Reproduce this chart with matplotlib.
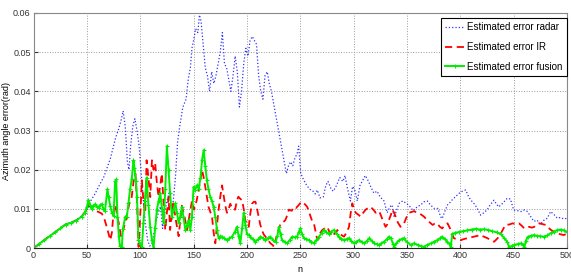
import matplotlib
matplotlib.use('Agg')
import matplotlib.pyplot as plt
from matplotlib import font_manager

# sample index n and azimuth error (rad), per series
n_radar = [0, 5, 10, 15, 20, 25, 30, 35, 40, 45, 50, 54, 58, 62, 66, 69, 72, 75, 77, 80,
           82, 84, 86, 88, 89.5, 91, 93, 95, 97, 99, 101, 103, 105, 107, 109, 111, 113, 115, 117, 119,
           121, 123, 125, 127, 129, 131, 133, 135, 137, 140, 143, 145, 147, 148.5, 150, 152, 154, 155.5, 157, 159,
           161, 163, 165, 167, 169, 171, 173, 175, 177, 179, 181, 183, 185, 187, 189, 191, 193, 195, 197, 199,
           201, 203, 205, 207, 209, 211, 213, 215, 217, 219, 221, 223, 225, 227, 229, 231, 233, 235, 237, 239,
           241, 243, 245, 247, 248.5, 250.5, 253, 256, 259, 262, 264, 266, 268.5, 271.5, 274, 276, 279, 281, 284, 287,
           290, 292, 294, 297, 299, 301, 303.5, 306, 308, 311, 314, 316, 319, 322, 325, 328.5, 331.5, 334, 336, 338,
           341, 343, 346, 350, 353, 356, 359.5, 363, 366, 369, 372, 376, 379, 381.5, 383, 385, 388, 391, 393, 396,
           399, 402, 405, 408, 410, 414, 417, 419, 422, 425, 428, 431.5, 434, 436, 440, 444, 447, 450, 454, 457,
           460, 463, 466, 469, 472, 475, 478, 481.5, 484.6, 488, 491, 494, 497, 500]
err_radar = [0, 0.0009, 0.002, 0.003, 0.004, 0.005, 0.006, 0.0066, 0.0072, 0.0082, 0.0095, 0.0122, 0.014, 0.0162, 0.0182, 0.0205, 0.0228, 0.026, 0.0282, 0.0305,
             0.0325, 0.035, 0.031, 0.022, 0.020, 0.026, 0.031, 0.033, 0.030, 0.026, 0.019, 0.012, 0.006, 0.002, 0.0005, 0.001, 0.004, 0.007, 0.009, 0.0106,
             0.005, 0.009, 0.012, 0.014, 0.010, 0.012, 0.018, 0.027, 0.031, 0.036, 0.038, 0.043, 0.046, 0.051, 0.053, 0.056, 0.055, 0.0595, 0.058, 0.052,
             0.046, 0.044, 0.040, 0.045, 0.042, 0.044, 0.047, 0.050, 0.055, 0.047, 0.046, 0.043, 0.040, 0.044, 0.049, 0.045, 0.036, 0.040, 0.047, 0.051,
             0.049, 0.053, 0.054, 0.053, 0.052, 0.044, 0.040, 0.038, 0.044, 0.045, 0.042, 0.040, 0.037, 0.034, 0.031, 0.028, 0.025, 0.022, 0.019, 0.021,
             0.022, 0.021, 0.023, 0.024, 0.026, 0.019, 0.0175, 0.016, 0.015, 0.0145, 0.0138, 0.0148, 0.0128, 0.013, 0.016, 0.017, 0.015, 0.0145, 0.016, 0.018,
             0.017, 0.0185, 0.0155, 0.012, 0.0157, 0.015, 0.012, 0.016, 0.017, 0.0185, 0.017, 0.0157, 0.014, 0.0145, 0.013, 0.012, 0.009, 0.0105, 0.011, 0.0078,
             0.0102, 0.0115, 0.012, 0.0113, 0.0105, 0.0095, 0.0105, 0.011, 0.0118, 0.012, 0.011, 0.010, 0.0101, 0.008, 0.0075, 0.009, 0.011, 0.0118, 0.0125, 0.0132,
             0.014, 0.0145, 0.0148, 0.013, 0.0122, 0.011, 0.0095, 0.0084, 0.009, 0.0097, 0.011, 0.0122, 0.0112, 0.0105, 0.0115, 0.0127, 0.0125, 0.0097, 0.0095, 0.0093,
             0.0097, 0.0093, 0.0080, 0.0068, 0.0071, 0.0060, 0.0070, 0.0076, 0.0093, 0.0085, 0.0076, 0.0078, 0.0074, 0.0076]

n_ir = [0, 5, 10, 15, 20, 25, 30, 35, 40, 45, 50, 52, 55, 58, 61, 64, 66, 68, 70, 72,
        73.5, 75, 77, 78.5, 80, 82, 84, 86, 88, 90, 92, 94, 95.5, 97, 98.5, 100, 101.6, 103, 104.7, 106,
        107.7, 109.4, 111, 112.5, 114, 115.5, 117.2, 118.8, 120.3, 122, 123.5, 125, 126.6, 128, 129.5, 131, 133.5, 136, 137.5, 139,
        141.5, 144, 146, 148.5, 150.5, 153, 155.5, 158, 159.5, 161, 164, 167.3, 168.8, 170.4, 172, 173.5, 175, 176.7, 178, 179.6,
        181.3, 183, 184.4, 186.5, 189, 190.5, 192, 194, 195.5, 197, 198.5, 200, 201.7, 203.3, 204.8, 206.5, 208, 209.5, 211, 212.5,
        214, 215.7, 217.4, 220, 222, 224, 225.4, 227, 228.5, 230, 231.6, 234, 236, 238, 239.4, 242, 244, 246, 248.7, 251,
        253.4, 255, 256.5, 258, 259.7, 261, 262.8, 264.5, 266, 268, 270.6, 273, 275.3, 277.5, 280, 282.5, 284.7, 287.5, 291, 293.5,
        295.7, 297.3, 298.8, 300.5, 302, 304.5, 306.6, 309, 311.3, 313.5, 316, 318.5, 320.7, 322.5, 324, 326, 328.5, 330, 331.5, 333,
        335, 336.3, 338, 339.4, 341.5, 344, 345.5, 347.3, 349.5, 352, 354.5, 356.7, 359.5, 363, 366, 369, 371.5, 374, 376, 378.4,
        380.5, 383, 385.5, 388, 389.5, 391, 392.5, 394, 397, 400.5, 403.5, 406.7, 410, 413, 416, 419, 422, 425.5, 428.5, 431.7,
        435, 438, 440.5, 442.6, 446, 449, 452, 455, 457.5, 460, 462.5, 464.6, 467, 469.3, 471.5, 474, 477, 480, 482.5, 485,
        488, 491, 494, 497, 500]
err_ir = [0, 0.0009, 0.002, 0.003, 0.004, 0.005, 0.006, 0.0065, 0.007, 0.008, 0.0098, 0.011, 0.010, 0.0095, 0.0092, 0.0088, 0.0078, 0.006, 0.004, 0.002,
          0.004, 0.009, 0.011, 0.008, 0.0063, 0.003, 0.0046, 0.0065, 0.009, 0.0116, 0.013, 0.0175, 0.019, 0.012, 0.0003, 0.008, 0.0173, 0.012, 0.009, 0.0224,
          0.018, 0.013, 0.0224, 0.020, 0.0216, 0.017, 0.013, 0.016, 0.019, 0.011, 0.0046, 0.009, 0.013, 0.0046, 0.008, 0.0114, 0.007, 0.003, 0.007, 0.0108,
          0.008, 0.0046, 0.008, 0.012, 0.0098, 0.0122, 0.016, 0.0199, 0.018, 0.0156, 0.0105, 0.008, 0.004, 0.0012, 0.006, 0.0098, 0.013, 0.016, 0.0138, 0.011,
          0.009, 0.010, 0.0113, 0.010, 0.0098, 0.012, 0.0131, 0.0125, 0.0122, 0.010, 0.0071, 0.006, 0.0054, 0.009, 0.0113, 0.0118, 0.0118, 0.010, 0.008, 0.006,
          0.0046, 0.0035, 0.0029, 0.002, 0.0012, 0.0008, 0.0003, 0.002, 0.0037, 0.005, 0.0063, 0.0066, 0.0071, 0.0085, 0.0098, 0.0095, 0.0105, 0.0102, 0.011, 0.0118,
          0.0114, 0.011, 0.0105, 0.0095, 0.008, 0.007, 0.0063, 0.004, 0.002, 0.0035, 0.0046, 0.005, 0.0054, 0.004, 0.0029, 0.0038, 0.0046, 0.0035, 0.0029, 0.004,
          0.0054, 0.009, 0.0114, 0.0098, 0.009, 0.0085, 0.008, 0.009, 0.0098, 0.0102, 0.0105, 0.0098, 0.009, 0.0092, 0.0094, 0.008, 0.0063, 0.0054, 0.006, 0.0071,
          0.0085, 0.0098, 0.009, 0.008, 0.0065, 0.0054, 0.0058, 0.0063, 0.0078, 0.009, 0.0092, 0.0094, 0.009, 0.0086, 0.008, 0.0071, 0.0065, 0.0059, 0.0062, 0.0063,
          0.0055, 0.005, 0.0058, 0.0063, 0.0055, 0.0046, 0.0035, 0.0025, 0.0022, 0.002, 0.0023, 0.0025, 0.0027, 0.0029, 0.0031, 0.0033, 0.0029, 0.0025, 0.002, 0.0016,
          0.0025, 0.0037, 0.005, 0.0059, 0.006, 0.0063, 0.0061, 0.0063, 0.0057, 0.005, 0.0052, 0.0054, 0.0052, 0.0054, 0.006, 0.0063, 0.0061, 0.0059, 0.0052, 0.0046,
          0.0041, 0.0037, 0.0035, 0.0033, 0.0037]

n_fusion = [0, 5, 10, 15, 20, 25, 30, 35, 40, 45, 48, 50, 51.5, 53, 54.6, 56, 57.8, 59.5, 61, 62.5,
            64, 65.5, 67, 69.3, 70.5, 71.8, 73.5, 75, 76.5, 77.5, 78.7, 80, 81, 82.8, 83.7, 86, 87.5, 89, 90.5, 92,
            93.7, 94.6, 96, 97, 98.4, 100, 101.6, 103, 104.5, 106, 107.7, 109.4, 111, 112.5, 114, 115.6, 117.2, 118.8, 120.5, 122,
            123.5, 125, 126.6, 128, 129.7, 131.5, 133, 134.5, 136, 137.5, 139, 140.5, 142.3, 144, 145.4, 147, 148.5, 150, 151.6, 153,
            154.8, 156.5, 158, 159.5, 161, 162.5, 164, 165.6, 167.2, 168.8, 170.4, 172, 173.5, 175, 176.7, 179, 181.3, 183.5, 186, 188.5,
            190.7, 192.3, 193.8, 195.5, 197, 198.5, 200, 201.7, 203.3, 205.5, 208, 210.5, 212.7, 215, 217.4, 219.5, 222, 224.5, 227, 228.5,
            230, 231.5, 233, 235.5, 237.8, 240, 242.5, 245, 247, 248.5, 250, 251.7, 253.4, 255.5, 258, 260.5, 262.8, 265, 267.5, 270,
            272, 274.5, 276.8, 279, 281.5, 284, 286, 288.5, 291, 293.5, 295.7, 298, 300.4, 302.5, 305, 307.5, 310, 312.5, 314.6, 317,
            319, 321.5, 324, 326, 328.5, 331, 333, 335, 337, 338, 340, 342.6, 345, 347, 350, 353.7, 356.5, 360, 363, 366,
            369, 372.5, 375.5, 378.4, 381, 383, 385.5, 388, 390, 391, 392.6, 395.5, 398.8, 402.5, 406.7, 410.5, 414.5, 418.5, 422.3, 426,
            430, 434, 438, 441, 444, 445.8, 448, 450.5, 454, 457, 459, 460, 461.5, 463, 466, 469, 472, 475, 478, 481.6,
            484.6, 488, 491, 494, 497, 500]
err_fusion = [0, 0.001, 0.002, 0.003, 0.004, 0.005, 0.006, 0.0064, 0.007, 0.008, 0.009, 0.0105, 0.0122, 0.011, 0.0099, 0.0108, 0.0112, 0.0105, 0.0103, 0.011,
              0.0112, 0.010, 0.0095, 0.015, 0.013, 0.0108, 0.009, 0.0082, 0.017, 0.0175, 0.008, 0.003, 0.0006, 0.0002, 0.0048, 0.008, 0.008, 0.0116, 0.015, 0.0175,
              0.0224, 0.0205, 0.017, 0.013, 0.002, 0.001, 0.0003, 0.0063, 0.012, 0.018, 0.011, 0.0054, 0.002, 0.0, 0.005, 0.0097, 0.012, 0.014, 0.010, 0.0063,
              0.015, 0.026, 0.0199, 0.014, 0.008, 0.010, 0.0114, 0.009, 0.0063, 0.008, 0.0105, 0.008, 0.0046, 0.006, 0.0071, 0.0046, 0.008, 0.0156, 0.0148, 0.016,
              0.0151, 0.018, 0.0225, 0.025, 0.021, 0.0173, 0.015, 0.0131, 0.012, 0.0105, 0.008, 0.0046, 0.0025, 0.003, 0.0029, 0.0025, 0.002, 0.0025, 0.0029, 0.004,
              0.0054, 0.003, 0.0012, 0.005, 0.009, 0.006, 0.0037, 0.0033, 0.0029, 0.0022, 0.0016, 0.0022, 0.0029, 0.0025, 0.002, 0.0025, 0.0029, 0.002, 0.0016, 0.003,
              0.0054, 0.0035, 0.002, 0.0015, 0.0012, 0.002, 0.0029, 0.0027, 0.0029, 0.004, 0.005, 0.0035, 0.0025, 0.0023, 0.002, 0.0016, 0.0012, 0.002, 0.0029, 0.0038,
              0.0046, 0.004, 0.0037, 0.0042, 0.0046, 0.0037, 0.0029, 0.0024, 0.002, 0.0023, 0.0025, 0.0018, 0.0012, 0.0016, 0.002, 0.0015, 0.0012, 0.0018, 0.0025, 0.0018,
              0.0012, 0.001, 0.0008, 0.0012, 0.0016, 0.0022, 0.0029, 0.0025, 0.001, 0.0003, 0.0012, 0.002, 0.0023, 0.0025, 0.0015, 0.0008, 0.0012, 0.0008, 0.0005, 0.0003,
              0.0008, 0.0012, 0.0016, 0.002, 0.0025, 0.0029, 0.0022, 0.0016, 0.001, 0.0003, 0.0036, 0.0039, 0.0041, 0.0043, 0.0045, 0.0047, 0.0049, 0.0047, 0.0048, 0.0046,
              0.0043, 0.0040, 0.0035, 0.0026, 0.0016, 0.0002, 0.0005, 0.0008, 0.001, 0.0012, 0.0008, 0.0003, 0.0018, 0.0028, 0.0031, 0.0033, 0.0031, 0.0030, 0.0029, 0.0032,
              0.0038, 0.0042, 0.0046, 0.0047, 0.0045, 0.0040]

labels = ['Estimated error radar', 'Estimated error IR', 'Estimated error fusion']

names = {f.name for f in font_manager.fontManager.ttflist}
family = 'Liberation Sans Narrow' if 'Liberation Sans Narrow' in names else 'Liberation Sans'
plt.rcParams['font.family'] = [family, 'DejaVu Sans']

fig = plt.figure(figsize=(5.71, 2.75), dpi=100)
ax = fig.add_axes([33.5 / 571, 27 / 275, 533.5 / 571, 235 / 275])

ax.plot(n_radar, err_radar, color='#3030ff', linestyle=':', linewidth=0.9, label=labels[0])
ax.plot(n_ir, err_ir, color='#ff0000', linestyle='--', linewidth=1.3, dashes=(4, 2.5), label=labels[1])
ax.plot(n_fusion, err_fusion, color='#00ee00', linestyle='-', linewidth=1.4,
        marker='+', markersize=3, markeredgewidth=0.8, label=labels[2])

ax.set_xlim(0, 500)
ax.set_ylim(0, 0.06)
ax.set_xticks(range(0, 501, 50))
ax.set_yticks([0, 0.01, 0.02, 0.03, 0.04, 0.05, 0.06])
ax.set_yticklabels(['0', '0.01', '0.02', '0.03', '0.04', '0.05', '0.06'])
ax.tick_params(direction='in', length=3, labelsize=6.5, colors='#333333', pad=2)
ax.grid(True, linestyle=':', color='#999999', linewidth=0.7)

for side in ['top', 'left', 'right']:
    ax.spines[side].set_color('#888888')
ax.spines['bottom'].set_color('#222222')

ax.set_xlabel('n', fontsize=6.5, labelpad=4)
ax.set_ylabel('Azimuth angle error(rad)', fontsize=6.5)
ax.yaxis.set_label_coords(-22 / 533.5, 0.5)

leg = ax.legend(loc='upper right', bbox_to_anchor=(1.0, 1 - 5 / 235), borderaxespad=0,
                fontsize=7, fancybox=False, framealpha=1, edgecolor='black',
                numpoints=1, handlelength=2.0, handletextpad=0.3, labelspacing=1.0,
                borderpad=0.45)
leg.get_frame().set_linewidth(0.8)

fig.savefig('out.png', dpi=100)
